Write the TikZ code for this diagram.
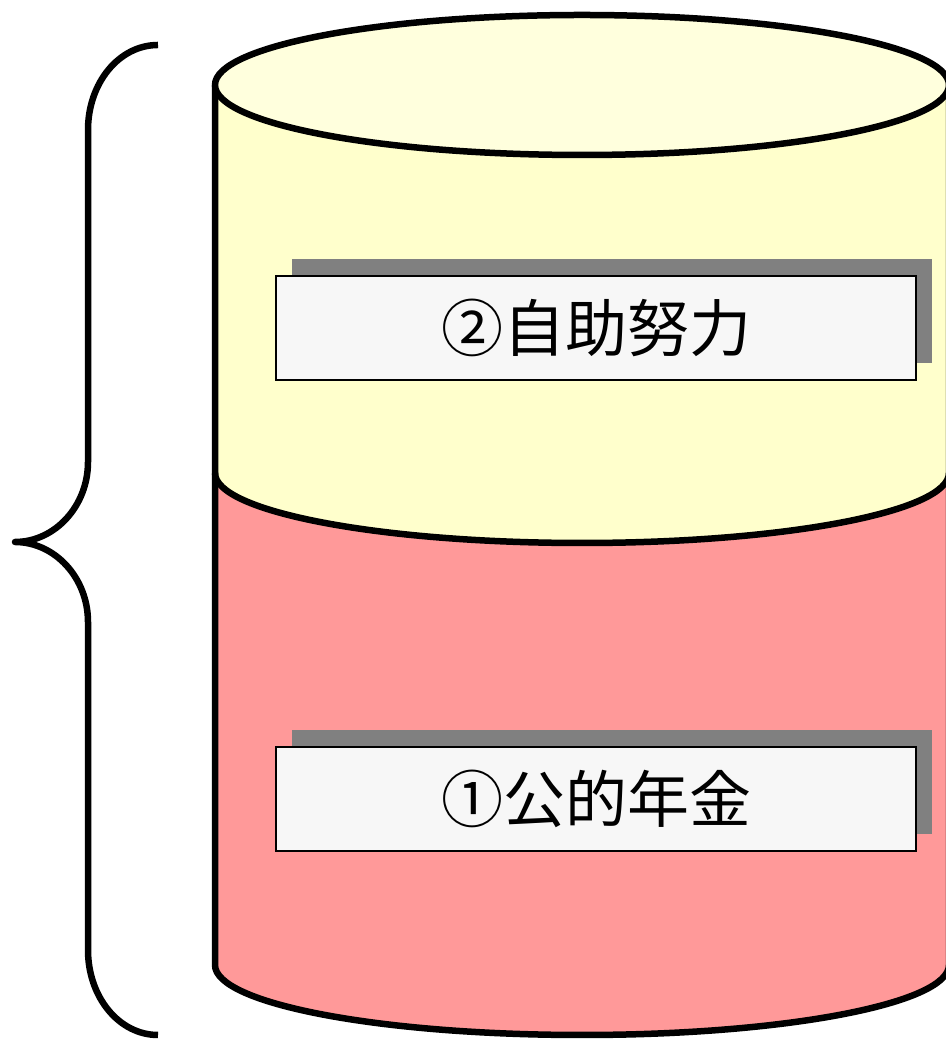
\documentclass[tikz,border=0pt]{standalone}
\usepackage{fontspec}
\newfontfamily\cjk{Noto Sans CJK JP}
\usetikzlibrary{shadows}
\definecolor{cylyellow}{HTML}{FFFFCC}
\definecolor{cyltop}{HTML}{FFFFDD}
\definecolor{cylpink}{HTML}{FF9999}
\definecolor{boxfill}{HTML}{F7F7F7}
\definecolor{shadowgray}{HTML}{808080}
\tikzset{
  rim/.style={line width=6.5pt, line join=round},
  labelbox/.style={draw=black, line width=1.5pt, fill=boxfill,
    minimum width=640pt, minimum height=104pt, inner sep=0pt,
    font=\cjk\fontsize{62}{64}\selectfont,
    general shadow={fill=shadowgray, shadow xshift=15.5pt, shadow yshift=16.5pt}},
  bracestyle/.style={line width=6.5pt, line join=round}
}
\begin{document}
\begin{tikzpicture}[x=1pt,y=1pt]
\useasboundingbox (0,0) rectangle (945,1040);
% pink lower body
\fill[cylpink] (215,567) -- (215,75) arc[start angle=180,end angle=360,x radius=367pt,y radius=70pt] -- (949,567) arc[start angle=0,end angle=-180,x radius=367pt,y radius=70pt] -- cycle;
% yellow upper body
\fill[cylyellow] (215,955) -- (215,567) arc[start angle=180,end angle=360,x radius=367pt,y radius=70pt] -- (949,955) -- cycle;
% outlines
\draw[rim] (215,955) -- (215,75) arc[start angle=180,end angle=360,x radius=367pt,y radius=70pt] -- (949,955);
\draw[rim] (215,567) arc[start angle=180,end angle=360,x radius=367pt,y radius=70pt];
\draw[rim, fill=cyltop] (582,955) ellipse[x radius=367pt, y radius=70pt];
% labels
\node[labelbox] (self) at (596,712) {②自助努力};
\node[labelbox] (public) at (596,241) {①公的年金};
% brace
\draw[bracestyle] (158,995) .. controls (119,995) and (88,957) .. (88,910) -- (88,578)
  .. controls (88,534) and (55,498) .. (15,498)
  .. controls (55,498) and (88,462) .. (88,418) -- (88,90)
  .. controls (88,43) and (119,5) .. (158,5);
\end{tikzpicture}
\end{document}
